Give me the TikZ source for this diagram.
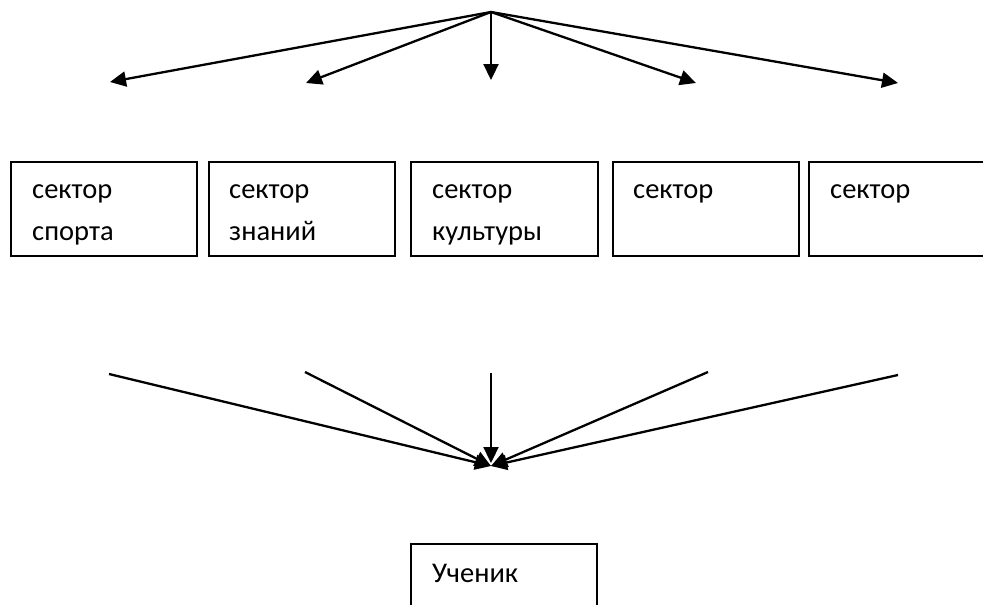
\documentclass[tikz,border=0pt]{standalone}
\usepackage{fontspec}
\setmainfont{Carlito}
\usetikzlibrary{arrows.meta}
\begin{document}
\begin{tikzpicture}[x=1pt,y=-1pt,
  box/.style={draw,line width=2pt,anchor=north west,inner sep=0pt,minimum height=94.5pt},
  lbl/.style={anchor=base west,inner sep=0pt,font=\fontsize{28.5}{42}\selectfont},
  conn/.style={line width=2.3pt,-{Triangle[length=16pt,width=15pt]}}]
\useasboundingbox (0,0) rectangle (983,605);
% boxes
\node[box,minimum width=186pt] (s1) at (10,160.5) {};
\node[box,minimum width=186pt] (s2) at (208,160.5) {};
\node[box,minimum width=187pt] (s3) at (410,160.5) {};
\node[box,minimum width=186pt] (s4) at (612,160.5) {};
\node[box,minimum width=200pt] (s5) at (808,160.5) {};
\node[box,minimum width=186pt,minimum height=80pt] (u) at (410,543) {};
% texts
\node[lbl] (t1a) at (32,198) {сектор};
\node[lbl] (t1b) at (32,240) {спорта};
\node[lbl] (t2a) at (229,198) {сектор};
\node[lbl] (t2b) at (229,240) {знаний};
\node[lbl] (t3a) at (432,198) {сектор};
\node[lbl] (t3b) at (432,240) {культуры};
\node[lbl] (t4a) at (633,198) {сектор};
\node[lbl] (t5a) at (830,198) {сектор};
\node[lbl] (tu) at (432,582) {Ученик};
% top fan
\coordinate (src) at (491,12);
\coordinate (a1) at (110,82);
\coordinate (a2) at (306,83);
\coordinate (a3) at (491,80);
\coordinate (a4) at (696,83);
\coordinate (a5) at (898,83);
\foreach \p in {a1,a2,a3,a4,a5} \draw[conn] (src) -- (\p);
% bottom fan
\coordinate (hub) at (491,466);
\coordinate (hubc) at (491,463);
\coordinate (b1) at (109,374);
\coordinate (b2) at (305,372);
\coordinate (b3) at (491,373);
\coordinate (b4) at (708,372);
\coordinate (b5) at (898,375);
\draw[conn] (b1) -- (hub);
\draw[conn] (b2) -- (hub);
\draw[conn] (b3) -- (hubc);
\draw[conn] (b4) -- (hub);
\draw[conn] (b5) -- (hub);
\end{tikzpicture}
\end{document}
